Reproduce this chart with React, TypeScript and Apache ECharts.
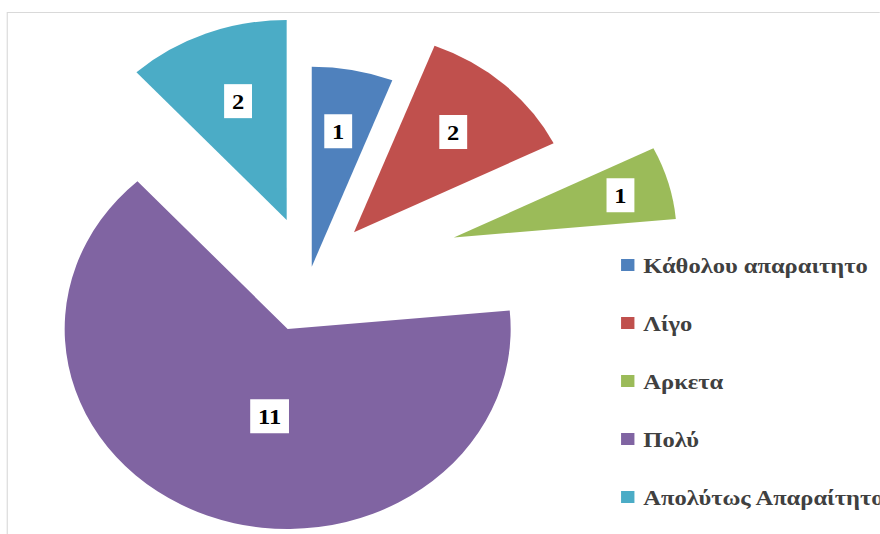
import React, { useEffect, useRef } from "react";
import * as echarts from "echarts";

// ---- data ----
const categories = [
  "Κάθολου απαραιτητο",
  "Λίγο",
  "Αρκετα",
  "Πολύ",
  "Απολύτως Απαραίτητο",
];
const values = [1, 2, 1, 11, 2];
const colors = ["#4F81BD", "#C0504D", "#9BBB59", "#8064A2", "#4BACC6"];

// ---- layout (not data) ----
const STRETCH = 1.115; // the reference picture is stretched horizontally
const RADIUS = 200;
const sliceCenters: [number, number][] = [
  [279.6, 266.7],
  [317.5, 232.3],
  [407, 237.5],
  [258, 329],
  [257.1, 220],
];
const labelNudges: [number, number][] = [
  [4.8, -34.1],
  [19.6, -24.1],
  [50.4, -14.1],
  [21, -8.9],
  [-6.4, -22.8],
];
const FONT = '"Liberation Serif", "Times New Roman", serif';

export default function App() {
  const ref = useRef<HTMLDivElement>(null);

  useEffect(() => {
    if (!ref.current) return;
    const chart = echarts.init(ref.current, undefined, { renderer: "svg" });
    const total = values.reduce((a, b) => a + b, 0);
    const hidden = {
      itemStyle: { color: "rgba(0,0,0,0)" },
      label: { show: false },
      labelLine: { show: false },
    };
    const series = values.map((v, i) => {
      const before = values.slice(0, i).reduce((a, b) => a + b, 0);
      const after = total - before - v;
      return {
        type: "pie",
        radius: RADIUS,
        center: sliceCenters[i],
        startAngle: 90,
        clockwise: true,
        silent: true,
        avoidLabelOverlap: false,
        emphasis: { disabled: true },
        label: {
          show: true,
          position: "inside",
          formatter: "{c}",
          fontFamily: FONT,
          fontWeight: "bold",
          fontSize: 22,
          lineHeight: 22,
          color: "#000",
          backgroundColor: "#ffffff",
          padding: [6, 7, 6, 7],
        },
        labelLine: { show: false },
        labelLayout: { dx: labelNudges[i][0], dy: labelNudges[i][1] },
        data: [
          { value: before, ...hidden },
          { name: categories[i], value: v, itemStyle: { color: colors[i] } },
          { value: after, ...hidden },
        ],
      };
    });

    chart.setOption({
      animation: false,
      backgroundColor: "#ffffff",
      graphic: [
        {
          type: "rect",
          silent: true,
          z: -10,
          shape: { x: 6.5, y: 12.5, width: 2000, height: 2000 },
          style: { fill: "none", stroke: "#d9d9d9", lineWidth: 1 },
        },
      ],
      legend: {
        orient: "vertical",
        left: 557,
        top: 254,
        padding: 0,
        itemWidth: 12,
        itemHeight: 12,
        itemGap: 36,
        icon: "rect",
        selectedMode: false,
        data: categories,
        textStyle: {
          fontFamily: FONT,
          fontWeight: "bold",
          fontSize: 22,
          lineHeight: 22,
          color: "#404040",
          padding: [0, 0, 0, 3],
        },
      },
      series,
    });
    return () => chart.dispose();
  }, []);

  return (
    <div
      style={{
        position: "fixed",
        left: 0,
        top: 0,
        width: 880,
        height: 534,
        overflow: "hidden",
        background: "#fff",
      }}
    >
      <div
        ref={ref}
        style={{
          width: 880 / STRETCH,
          height: 534,
          transform: `scaleX(${STRETCH})`,
          transformOrigin: "0 0",
        }}
      />
    </div>
  );
}
